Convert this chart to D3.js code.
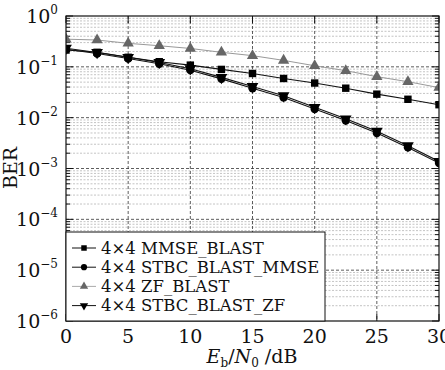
<!DOCTYPE html>
<html><head><meta charset="utf-8">
<script src="https://cdn.jsdelivr.net/npm/d3@7"></script>
<style>body{margin:0;background:#fff}svg{display:block}</style>
</head><body><svg id="c" width="445" height="370" font-family="DejaVu Serif" fill="#111"></svg>
<script>
const snr = [0,2.5,5,7.5,10,12.5,15,17.5,20,22.5,25,27.5,30];
const mmseBlast = [0.214,0.193,0.154,0.126,0.108,0.089,0.074,0.059,0.048,0.038,0.029,0.023,0.018];
const stbcMmse = [0.222,0.183,0.146,0.115,0.086,0.058,0.038,0.025,0.0148,0.0088,0.0050,0.0026,0.00128];
const zfBlast = [0.35,0.337,0.29,0.26,0.23,0.193,0.166,0.134,0.105,0.084,0.064,0.051,0.039];
const stbcZf = [0.232,0.192,0.154,0.122,0.092,0.062,0.041,0.027,0.016,0.0095,0.0054,0.0028,0.00138];
const xTicks = [0,5,10,15,20,25,30];
const yExps = [0,-1,-2,-3,-4,-5,-6];
const legendLabels = ["4×4 MMSE_BLAST","4×4 STBC_BLAST_MMSE","4×4 ZF_BLAST","4×4 STBC_BLAST_ZF"];

const svg = d3.select("#c");
const L=66,R=439,T=16,B=321;
const x = d3.scaleLinear().domain([0,30]).range([L,R]);
const y = d3.scaleLog().domain([1e-6,1]).range([B,T]);

const minor=[];
for(let e=-6;e<0;e++) for(let m=2;m<=9;m++) minor.push(m*Math.pow(10,e));
svg.append("g").selectAll("line").data(minor).join("line")
 .attr("x1",L).attr("x2",R).attr("y1",d=>y(d)).attr("y2",d=>y(d))
 .attr("stroke","#aaa").attr("stroke-width",0.7).attr("stroke-dasharray","2,1.5");
svg.append("g").selectAll("line").data(yExps.slice(1,6)).join("line")
 .attr("x1",L).attr("x2",R).attr("y1",d=>y(Math.pow(10,d))).attr("y2",d=>y(Math.pow(10,d)))
 .attr("stroke","#333").attr("stroke-width",0.8).attr("stroke-dasharray","3,2");
svg.append("g").selectAll("line").data(xTicks.slice(1,6)).join("line")
 .attr("x1",d=>x(d)).attr("x2",d=>x(d)).attr("y1",T).attr("y2",B)
 .attr("stroke","#333").attr("stroke-width",0.8).attr("stroke-dasharray","3,2");

const tk = svg.append("g").attr("stroke","#111").attr("stroke-width",1);
minor.forEach(v=>{[[L,L+4],[R,R-4]].forEach(p=>tk.append("line").attr("x1",p[0]).attr("x2",p[1]).attr("y1",y(v)).attr("y2",y(v)));});
yExps.forEach(e=>{const v=Math.pow(10,e);[[L,L+7],[R,R-7]].forEach(p=>tk.append("line").attr("x1",p[0]).attr("x2",p[1]).attr("y1",y(v)).attr("y2",y(v)));});
xTicks.forEach(t=>{[[B,B-7],[T,T+7]].forEach(p=>tk.append("line").attr("x1",x(t)).attr("x2",x(t)).attr("y1",p[0]).attr("y2",p[1]));});

svg.append("clipPath").attr("id","clp").append("rect").attr("x",L).attr("y",T).attr("width",R-L).attr("height",B-T);
const plot = svg.append("g").attr("clip-path","url(#clp)");
const line = d3.line().x((d,i)=>x(snr[i])).y(d=>y(d));

const series = [
 {v:zfBlast, color:"#999", mcolor:"#666", sym:d3.symbolTriangle, size:55, rot:0, w:1},
 {v:mmseBlast, color:"#111", mcolor:"#000", sym:d3.symbolSquare, size:55, rot:0, w:1.1},
 {v:stbcMmse, color:"#111", mcolor:"#000", sym:d3.symbolCircle, size:55, rot:0, w:1.1},
 {v:stbcZf, color:"#111", mcolor:"#000", sym:d3.symbolTriangle, size:60, rot:180, w:1.1}
];
series.forEach(s=>{
 plot.append("path").datum(s.v).attr("d",line).attr("fill","none").attr("stroke",s.color).attr("stroke-width",s.w);
 plot.append("g").selectAll("path").data(s.v).join("path")
  .attr("d",d3.symbol().type(s.sym).size(s.size))
  .attr("transform",(d,i)=>`translate(${x(snr[i])},${y(d)}) rotate(${s.rot})`)
  .attr("fill",s.mcolor);
});

svg.append("rect").attr("x",L).attr("y",T).attr("width",R-L).attr("height",B-T).attr("fill","none").attr("stroke","#111").attr("stroke-width",1.2);

const lg = svg.append("g");
lg.append("rect").attr("x",L).attr("y",232).attr("width",259).attr("height",B-232).attr("fill","#fff").attr("stroke","#111").attr("stroke-width",1);
const lgStyle=[
 {color:"#111",m:"#000",sym:d3.symbolSquare,size:30,rot:0},
 {color:"#111",m:"#000",sym:d3.symbolCircle,size:30,rot:0},
 {color:"#aaa",m:"#666",sym:d3.symbolTriangle,size:30,rot:0},
 {color:"#111",m:"#000",sym:d3.symbolTriangle,size:30,rot:180}];
legendLabels.forEach((lab,i)=>{
 const yy=248+i*19.2, st=lgStyle[i];
 lg.append("line").attr("x1",72).attr("x2",96).attr("y1",yy).attr("y2",yy).attr("stroke",st.color).attr("stroke-width",1);
 lg.append("path").attr("d",d3.symbol().type(st.sym).size(st.size)()).attr("transform",`translate(84,${yy}) rotate(${st.rot})`).attr("fill",st.m);
 lg.append("text").attr("x",101).attr("y",yy+5.5).attr("font-size",16.5).text(lab);
});

yExps.forEach(e=>{
 const t=svg.append("text").attr("x",58).attr("y",y(Math.pow(10,e))+7).attr("font-size",19).attr("text-anchor","end");
 t.append("tspan").text("10");
 t.append("tspan").attr("dy",-9).attr("font-size",12).text(e===0?"0":"−"+(-e));
});
xTicks.forEach(v=>svg.append("text").attr("x",x(v)).attr("y",343).attr("font-size",19).attr("text-anchor","middle").text(v));

const xt=svg.append("text").attr("x",252).attr("y",363).attr("font-size",19).attr("text-anchor","middle");
xt.append("tspan").attr("font-style","italic").text("E");
xt.append("tspan").attr("dy",4).attr("font-size",12).text("b");
xt.append("tspan").attr("dy",-4).text("/");
xt.append("tspan").attr("font-style","italic").text("N");
xt.append("tspan").attr("dy",4).attr("font-size",12).text("0");
xt.append("tspan").attr("dy",-4).text(" /dB");
svg.append("text").attr("transform","translate(17,168) rotate(-90)").attr("font-size",19).attr("text-anchor","middle").text("BER");
</script></body></html>
